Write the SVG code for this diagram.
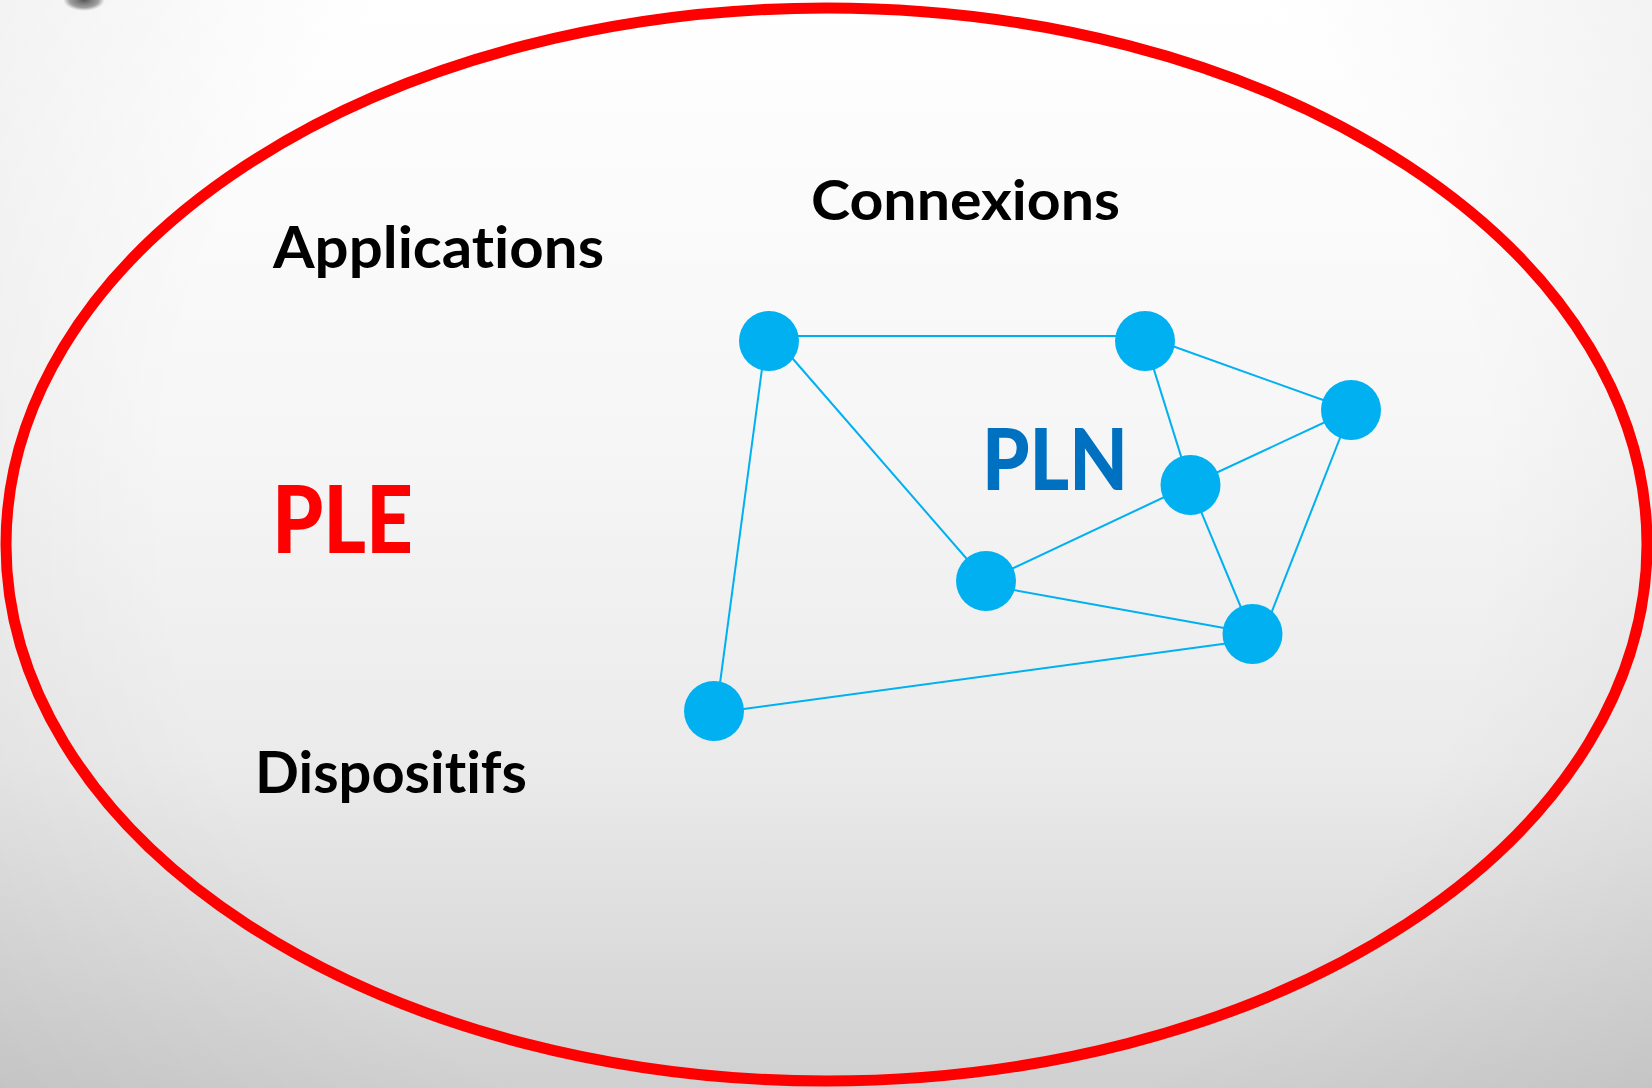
<svg xmlns="http://www.w3.org/2000/svg" width="1652" height="1088" viewBox="0 0 1652 1088">
  <defs>
    <linearGradient id="bg" x1="0" y1="0" x2="0" y2="1">
      <stop offset="0" stop-color="#ffffff"/>
      <stop offset="0.4" stop-color="#f6f6f6"/>
      <stop offset="0.7" stop-color="#ebebeb"/>
      <stop offset="1" stop-color="#d0d0d0"/>
    </linearGradient>
    <radialGradient id="vig" cx="826" cy="500" r="1100" gradientUnits="userSpaceOnUse">
      <stop offset="0.6" stop-color="#000000" stop-opacity="0"/>
      <stop offset="1" stop-color="#000000" stop-opacity="0.07"/>
    </radialGradient>
    <radialGradient id="blob" cx="0.5" cy="0.5" r="0.5">
      <stop offset="0" stop-color="#444444" stop-opacity="0.9"/>
      <stop offset="0.7" stop-color="#666666" stop-opacity="0.6"/>
      <stop offset="1" stop-color="#888888" stop-opacity="0"/>
    </radialGradient>
    <style>
      text { font-variant-ligatures: none; font-feature-settings: "liga" 0, "clig" 0; }
      .lbl { font-family: Lato, "Liberation Sans", "DejaVu Sans", sans-serif; font-weight: 700; fill: #000000; }
      .big { font-family: Lato, "Liberation Sans", "DejaVu Sans", sans-serif; font-weight: 900; }
      .node { fill: #00b0f0; }
      .edge { stroke: #00b0f0; stroke-width: 2; fill: none; }
    </style>
  </defs>

  <rect x="0" y="0" width="1652" height="1088" fill="url(#bg)"/>
  <rect x="0" y="0" width="1652" height="1088" fill="url(#vig)"/>
  <ellipse cx="84" cy="0" rx="21" ry="11" fill="url(#blob)"/>

  <g id="ple-boundary">
    <ellipse cx="826.5" cy="544.5" rx="820.5" ry="536.5" fill="none" stroke="#ff0000" stroke-width="11"/>
  </g>

  <g id="connectors">
    <line class="edge" x1="769" y1="336" x2="1145" y2="336"/>
    <line class="edge" x1="765.7" y1="341" x2="716.3" y2="711"/>
    <line class="edge" x1="780" y1="344" x2="986" y2="581"/>
    <line class="edge" x1="1150" y1="338" x2="1351" y2="410"/>
    <line class="edge" x1="1145" y1="341" x2="1190" y2="485"/>
    <line class="edge" x1="1351" y1="410" x2="1190" y2="485"/>
    <line class="edge" x1="1351" y1="410" x2="1263" y2="634"/>
    <line class="edge" x1="1190" y1="485" x2="986" y2="581"/>
    <line class="edge" x1="1190" y1="485" x2="1252" y2="634"/>
    <line class="edge" x1="986" y1="585" x2="1252" y2="633"/>
    <line class="edge" x1="1252" y1="640" x2="714" y2="713"/>
  </g>

  <g id="n1"><circle class="node" cx="769" cy="341" r="30"/></g>
  <g id="n2"><circle class="node" cx="1145" cy="341" r="30"/></g>
  <g id="n3"><circle class="node" cx="1351" cy="410" r="30"/></g>
  <g id="n4"><circle class="node" cx="1190.5" cy="485" r="30"/></g>
  <g id="n5"><circle class="node" cx="986" cy="581" r="30"/></g>
  <g id="n6"><circle class="node" cx="1252.5" cy="634" r="30"/></g>
  <g id="n7"><circle class="node" cx="714" cy="711" r="30"/></g>

  <g id="label-applications">
    <text class="lbl" x="273" y="268" font-size="58" textLength="331" lengthAdjust="spacingAndGlyphs">Applications</text>
  </g>
  <g id="label-connexions">
    <text class="lbl" x="811" y="220" font-size="56" textLength="309" lengthAdjust="spacingAndGlyphs">Connexions</text>
  </g>
  <g id="label-dispositifs">
    <text class="lbl" x="255" y="793" font-size="57" textLength="272" lengthAdjust="spacingAndGlyphs">Dispositifs</text>
  </g>
  <g id="label-ple">
    <text class="big" x="272" y="553" font-size="94" fill="#ff0000" textLength="141" lengthAdjust="spacingAndGlyphs">PLE</text>
  </g>
  <g id="label-pln">
    <text class="big" x="982" y="490" font-size="86" fill="#0070c0" textLength="146" lengthAdjust="spacingAndGlyphs">PLN</text>
  </g>
</svg>
